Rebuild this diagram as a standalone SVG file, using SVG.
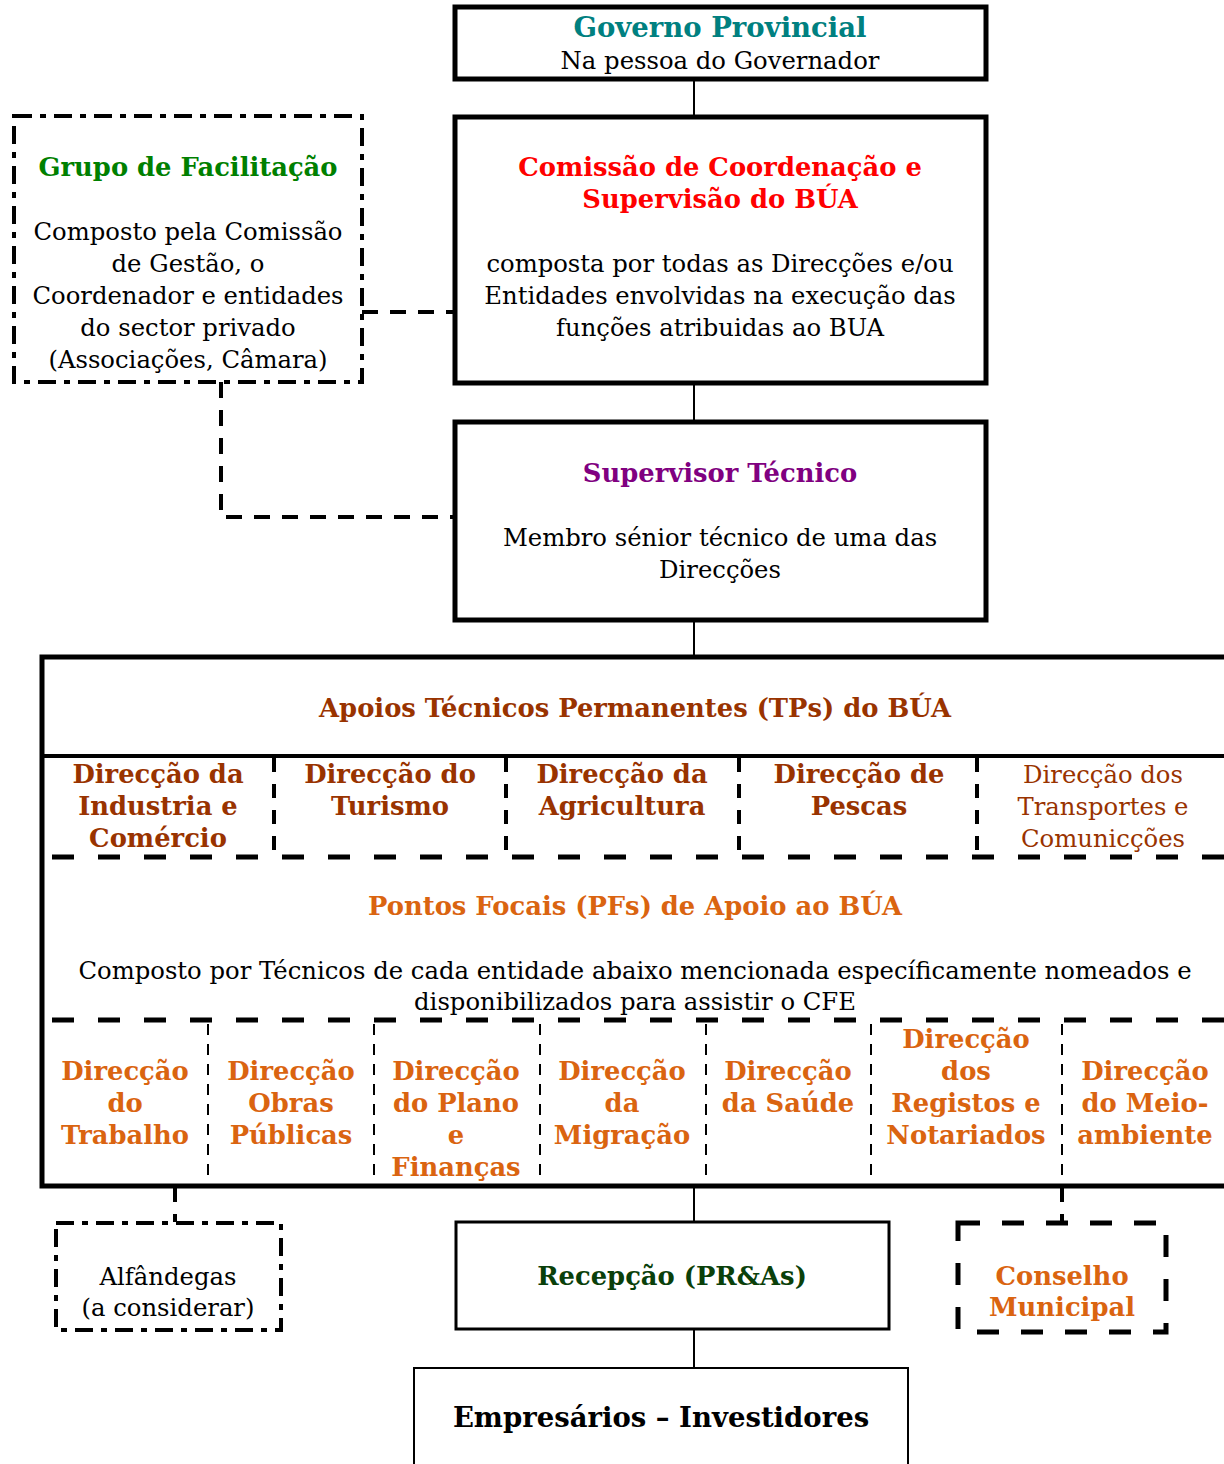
<svg xmlns="http://www.w3.org/2000/svg" width="1224" height="1464" viewBox="0 0 1224 1464">
<style>
text{font-family:"DejaVu Serif","Liberation Serif",serif;text-anchor:middle}
.r{font-size:24.3px;fill:#000}
.b{font-size:25.8px;font-weight:bold}
.big{font-size:27.5px}
.box{fill:#fff;stroke:#000;stroke-width:5}
.thin{fill:#fff;stroke:#000;stroke-width:2}
.ln{stroke:#000;stroke-width:2;fill:none}
.dc{stroke:#000;stroke-width:4;fill:none;stroke-dasharray:16 12}
.dd{fill:#fff;stroke:#000;stroke-width:4;stroke-dasharray:18 8 6 8}
.hd{stroke:#000;stroke-width:5;stroke-dasharray:22 24}
.teal{fill:#008080}.red{fill:#FF0000}.green{fill:#008000}.purple{fill:#800080}
.brown{fill:#993300}.orange{fill:#DA6410}.dgreen{fill:#0A400A}
</style>
<g id="connectors">
<line class="ln" x1="694" y1="79" x2="694" y2="117"/>
<line class="ln" x1="694" y1="383" x2="694" y2="422"/>
<line class="ln" x1="694" y1="620" x2="694" y2="657"/>
<line class="ln" x1="694" y1="1186" x2="694" y2="1222"/>
<line class="ln" x1="694" y1="1329" x2="694" y2="1368"/>
<line class="dc" x1="362" y1="312" x2="455" y2="312"/>
<polyline class="dc" points="221,382 221,517 455,517"/>
<line class="dc" x1="175" y1="1186" x2="175" y2="1222"/>
<line class="dc" x1="1062" y1="1186" x2="1062" y2="1222"/>
</g>
<g id="governo">
<rect class="box" x="455" y="7" width="531" height="72"/>
<text class="b big teal" x="720" y="37">Governo Provincial</text>
<text class="r" x="720" y="69">Na pessoa do Governador</text>
</g>
<g id="grupo">
<rect class="dd" x="14" y="116" width="348" height="266"/>
<text class="b green" x="188" y="176">Grupo de Facilitação</text>
<text class="r" x="188" y="240">Composto pela Comissão</text>
<text class="r" x="188" y="272">de Gestão, o</text>
<text class="r" x="188" y="304">Coordenador e entidades</text>
<text class="r" x="188" y="336">do sector privado</text>
<text class="r" x="188" y="368">(Associações, Câmara)</text>
</g>
<g id="comissao">
<rect class="box" x="455" y="117" width="531" height="266"/>
<text class="b red" x="720" y="176">Comissão de Coordenação e</text>
<text class="b red" x="720" y="208">Supervisão do BÚA</text>
<text class="r" x="720" y="272">composta por todas as Direcções e/ou</text>
<text class="r" x="720" y="304">Entidades envolvidas na execução das</text>
<text class="r" x="720" y="336">funções atribuidas ao BUA</text>
</g>
<g id="supervisor">
<rect class="box" x="455" y="422" width="531" height="198"/>
<text class="b purple" x="720" y="482">Supervisor Técnico</text>
<text class="r" x="720" y="546">Membro sénior técnico de uma das</text>
<text class="r" x="720" y="578">Direcções</text>
</g>
<g id="apoios">
<rect class="box" x="42" y="657" width="1200" height="529"/>
<line x1="42" y1="756" x2="1230" y2="756" stroke="#000" stroke-width="4"/>
<text class="b brown" x="635" y="717">Apoios Técnicos Permanentes (TPs) do BÚA</text>
<g stroke="#000" stroke-width="4" stroke-dasharray="14 12">
<line x1="274" y1="758" x2="274" y2="857"/>
<line x1="506" y1="758" x2="506" y2="857"/>
<line x1="739" y1="758" x2="739" y2="857"/>
<line x1="977" y1="758" x2="977" y2="857"/>
</g>
<line class="hd" x1="52" y1="857" x2="1230" y2="857"/>
<text class="b brown" x="158" y="783">Direcção da</text>
<text class="b brown" x="158" y="815">Industria e</text>
<text class="b brown" x="158" y="847">Comércio</text>
<text class="b brown" x="390" y="783">Direcção do</text>
<text class="b brown" x="390" y="815">Turismo</text>
<text class="b brown" x="622" y="783">Direcção da</text>
<text class="b brown" x="622" y="815">Agricultura</text>
<text class="b brown" x="859" y="783">Direcção de</text>
<text class="b brown" x="859" y="815">Pescas</text>
<text class="r brown" x="1103" y="783">Direcção dos</text>
<text class="r brown" x="1103" y="815">Transportes e</text>
<text class="r brown" x="1103" y="847">Comunicções</text>
</g>
<g id="pontos-focais">
<text class="b orange" x="635" y="915">Pontos Focais (PFs) de Apoio ao BÚA</text>
<text class="r" x="635" y="979">Composto por Técnicos de cada entidade abaixo mencionada específicamente nomeados e</text>
<text class="r" x="635" y="1010">disponibilizados para assistir o CFE</text>
<line class="hd" x1="52" y1="1020" x2="1230" y2="1020"/>
<g stroke="#000" stroke-width="2" stroke-dasharray="11 9">
<line x1="208" y1="1024" x2="208" y2="1184"/>
<line x1="374" y1="1024" x2="374" y2="1184"/>
<line x1="540" y1="1024" x2="540" y2="1184"/>
<line x1="706" y1="1024" x2="706" y2="1184"/>
<line x1="871" y1="1024" x2="871" y2="1184"/>
<line x1="1062" y1="1024" x2="1062" y2="1192"/>
</g>
<text class="b orange" x="125" y="1080">Direcção</text>
<text class="b orange" x="125" y="1112">do</text>
<text class="b orange" x="125" y="1144">Trabalho</text>
<text class="b orange" x="291" y="1080">Direcção</text>
<text class="b orange" x="291" y="1112">Obras</text>
<text class="b orange" x="291" y="1144">Públicas</text>
<text class="b orange" x="456" y="1080">Direcção</text>
<text class="b orange" x="456" y="1112">do Plano</text>
<text class="b orange" x="456" y="1144">e</text>
<text class="b orange" x="456" y="1176">Finanças</text>
<text class="b orange" x="622" y="1080">Direcção</text>
<text class="b orange" x="622" y="1112">da</text>
<text class="b orange" x="622" y="1144">Migração</text>
<text class="b orange" x="788" y="1080">Direcção</text>
<text class="b orange" x="788" y="1112">da Saúde</text>
<text class="b orange" x="966" y="1048">Direcção</text>
<text class="b orange" x="966" y="1080">dos</text>
<text class="b orange" x="966" y="1112">Registos e</text>
<text class="b orange" x="966" y="1144">Notariados</text>
<text class="b orange" x="1145" y="1080">Direcção</text>
<text class="b orange" x="1145" y="1112">do Meio-</text>
<text class="b orange" x="1145" y="1144">ambiente</text>
</g>
<g id="alfandegas">
<rect class="dd" x="56" y="1223" width="225" height="107"/>
<text class="r" x="168" y="1285">Alfândegas</text>
<text class="r" x="168" y="1316">(a considerar)</text>
</g>
<g id="recepcao">
<rect fill="#fff" stroke="#000" stroke-width="3" x="456" y="1222" width="433" height="107"/>
<text class="b dgreen" x="672" y="1285">Recepção (PR&amp;As)</text>
</g>
<g id="conselho">
<rect fill="#fff" stroke="#000" stroke-width="5" stroke-dasharray="22 22" x="958" y="1223" width="208" height="109"/>
<text class="b orange" x="1062" y="1285">Conselho</text>
<text class="b orange" x="1062" y="1316">Municipal</text>
</g>
<g id="empresarios">
<rect class="thin" x="414" y="1368" width="494" height="110"/>
<text class="b big" x="661" y="1427">Empresários – Investidores</text>
</g>
</svg>
